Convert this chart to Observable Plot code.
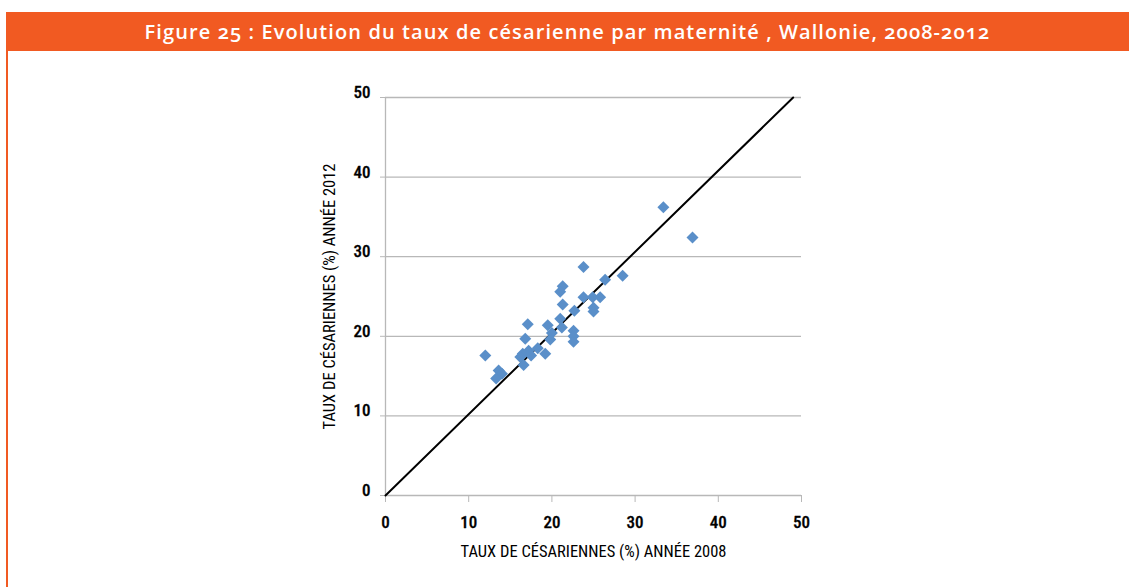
<!DOCTYPE html>
<html>
<head>
<meta charset="utf-8">
<script src="https://cdn.jsdelivr.net/npm/d3@7"></script>
<script src="https://cdn.jsdelivr.net/npm/@observablehq/plot@0.6"></script>
<style>
  html, body { margin: 0; padding: 0; background: #fff; }
  #wrap { position: relative; width: 1129px; height: 587px; overflow: hidden; }
  #bar { position: absolute; left: 6px; top: 12px; width: 1123px; height: 39px; background: #F15A22;
         color: #fff; font-family: "Open Sans", sans-serif; font-weight: 600; font-size: 20px;
         letter-spacing: 1.1px; line-height: 39px; text-align: center; font-variant-numeric: oldstyle-nums; }
  #left { position: absolute; left: 6px; top: 51px; width: 2px; height: 536px; background: #F15A22; }
  #chart { position: absolute; left: 0; top: 60px; }
</style>
</head>
<body>
<div id="wrap">
  <div id="bar">Figure 25 : Evolution du taux de césarienne par maternité , Wallonie, 2008-2012</div>
  <div id="left"></div>
  <div id="chart"></div>
</div>
<script>
const x2008 = [33.4, 36.9, 28.5, 26.4, 23.8, 25.8, 24.9, 23.8, 25.0, 25.0, 21.3, 21.0, 21.3, 22.7, 21.0, 21.2,
               19.5, 17.1, 22.6, 22.6, 22.6, 20.0, 19.8, 16.8, 18.3, 19.2, 17.2, 16.5, 16.2, 17.5, 16.6, 12.0,
               13.6, 14.0, 13.3];
const y2012 = [36.2, 32.4, 27.6, 27.1, 28.7, 24.9, 24.9, 24.9, 23.6, 23.1, 26.3, 25.6, 24.0, 23.2, 22.2, 21.1,
               21.4, 21.5, 20.7, 20.0, 19.3, 20.4, 19.6, 19.7, 18.5, 17.8, 18.2, 17.8, 17.4, 17.6, 16.4, 17.6,
               15.7, 15.3, 14.7];
const lineX = [0, 49];
const lineY = [0, 50];
const ticks = [0, 10, 20, 30, 40, 50];
const xLabel = "TAUX DE CÉSARIENNES (%) ANNÉE 2008";
const yLabel = "TAUX DE CÉSARIENNES (%) ANNÉE 2012";

const pts = x2008.map((v, i) => ({x: v, y: y2012[i]}));
const diag = lineX.map((v, i) => ({x: v, y: lineY[i]}));

const font = "'Liberation Sans Narrow', 'Roboto Condensed', 'Liberation Sans', sans-serif";

const chart = Plot.plot({
  width: 1129,
  height: 527,
  marginLeft: 385,
  marginRight: 328,
  marginTop: 37,
  marginBottom: 92,
  style: {fontFamily: font, fontSize: "15px", color: "#000", background: "transparent"},
  x: {domain: [0, 50]},
  y: {domain: [0, 50]},
  marks: [
    Plot.gridY(ticks.filter(t => t > 0), {stroke: "#b8b8b8", strokeOpacity: 1, strokeWidth: 1.3}),
    Plot.ruleY([0], {stroke: "#b8b8b8", strokeWidth: 1.3}),
    Plot.ruleX([0], {stroke: "#b8b8b8", strokeWidth: 1.3}),
    Plot.axisY({ticks: ticks, tickSize: 5, stroke: "#b8b8b8", text: null, label: null}),
    Plot.axisY({ticks: ticks, tickSize: 0, tickPadding: 15, fontSize: 17, fontWeight: 500,
                textStroke: "#000", textStrokeWidth: 0.3, dy: -5, label: null}),
    Plot.axisY({ticks: [], label: yLabel, labelAnchor: "center", labelArrow: "none", labelOffset: 62, fontSize: 16.5}),
    Plot.axisX({ticks: ticks, tickSize: 7, tickPadding: 13, stroke: "#b8b8b8", fontSize: 17, fontWeight: 500,
                textStroke: "#000", textStrokeWidth: 0.3, label: null}),
    Plot.axisX({ticks: [], label: xLabel, labelAnchor: "center", labelArrow: "none", labelOffset: 61, fontSize: 16.5}),
    Plot.line(diag, {x: "x", y: "y", stroke: "#000", strokeWidth: 2}),
    Plot.dot(pts, {x: "x", y: "y", symbol: "diamond2", r: 5.4, fill: "#5A8FC9", stroke: "none"})
  ]
});
document.getElementById("chart").appendChild(chart);
</script>
</body>
</html>
